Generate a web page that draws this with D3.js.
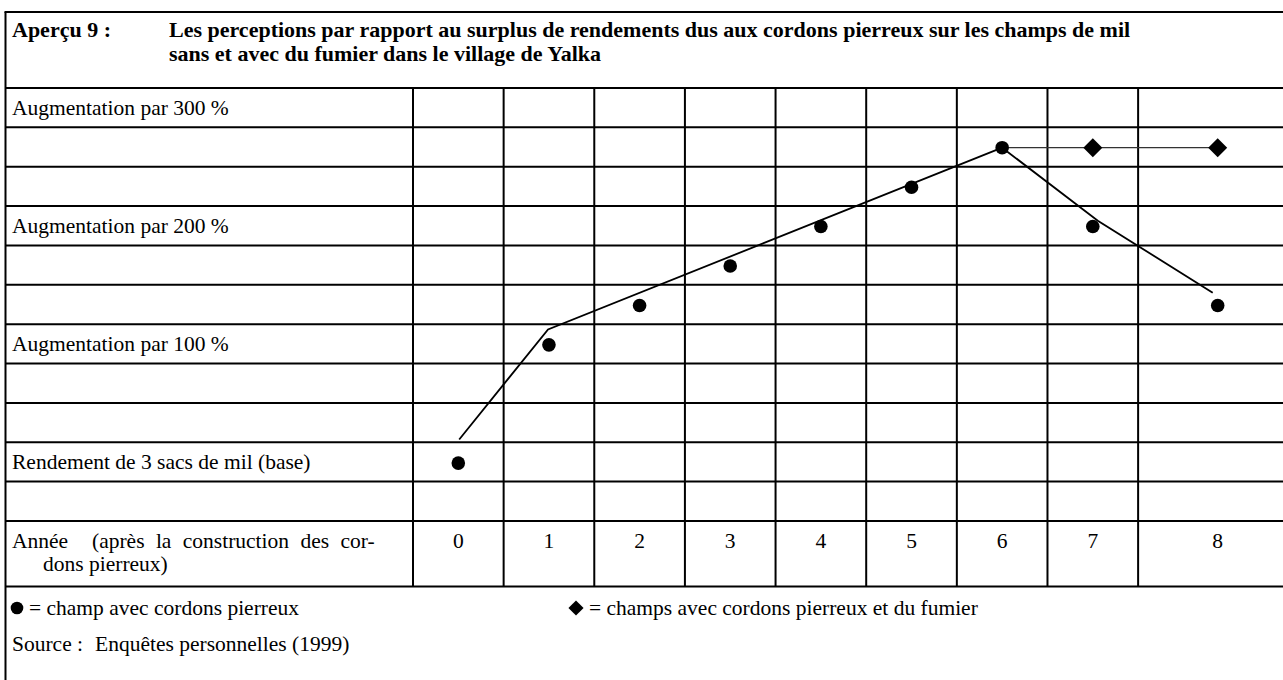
<!DOCTYPE html>
<html><head><meta charset="utf-8">
<script src="https://cdn.jsdelivr.net/npm/d3@7"></script>
<style>
html,body{margin:0;padding:0;background:#fff;}
svg text{font-family:"Liberation Serif","Times New Roman",serif;fill:#000;}
</style></head>
<body><svg id="c" width="1283" height="680"></svg>
<script>
// ---------- data ----------
const titleLabel = "Aperçu 9 :";
const titleLines = ["Les perceptions par rapport au surplus de rendements dus aux cordons pierreux sur les champs de mil",
                    "sans et avec du fumier dans le village de Yalka"];
const rowLabels = ["Augmentation par 300 %", "", "", "Augmentation par 200 %", "", "", "Augmentation par 100 %", "", "", "Rendement de 3 sacs de mil (base)", ""];
const years = [0, 1, 2, 3, 4, 5, 6, 7, 8];
const yieldStone = [0, 100, 133.3, 166.7, 200, 233.3, 266.7, 200, 133.3];      // % increase, dots
const manureYears = [6, 7, 8];
const yieldManure = [266.7, 266.7, 266.7];                                  // % increase, diamonds at 7, 8
const trendUpYears = [0.01, 0.99, 6];
const trendUpValues = [20, 113, 266.7];
const trendDownYears = [6, 7.04, 7.96];
const trendDownValues = [266.7, 205, 144];
const yearLabel1a = "Année";
const yearLabel1b = "(après la construction des cor-";
const yearLabel2 = "dons pierreux)";
const legendDot = "= champ avec cordons pierreux";
const legendDiamond = "= champs avec cordons pierreux et du fumier";
const sourceLabel = "Source :";
const sourceText = "Enquêtes personnelles (1999)";

// ---------- layout ----------
const svg = d3.select("#c");
const L = 5.5, R = 1297, TOP = 12, HEAD = 88, ROWH = 39.36, NROWS = 11;
const labelColR = 413, colW = 90.64;
const gridBottom = HEAD + ROWH * NROWS;   // 521
const yearBottom = 586.5;
const FS = 21.5, TFS = 22, TX = 12;

const x = d3.scaleLinear().domain([0, 7, 8]).range([458.3, 1092.8, 1217.7]);
const y = d3.scaleLinear().domain([0, 300]).range([463.1, 108.3]);

const g = svg.append("g");
const line = (x1, y1, x2, y2, w) => g.append("line").attr("x1", x1).attr("y1", y1).attr("x2", x2).attr("y2", y2)
  .attr("stroke", "#000").attr("stroke-width", w || 2);

// borders and grid
line(L - 1, TOP, R, TOP);
line(L, TOP, L, 680);
line(R, TOP, R, yearBottom);
line(L, HEAD, R, HEAD);
for (let i = 1; i <= NROWS; i++) line(L, HEAD + ROWH * i, R, HEAD + ROWH * i);
line(L, yearBottom, R, yearBottom);
for (let k = 0; k < years.length; k++) line(labelColR + colW * k, HEAD, labelColR + colW * k, yearBottom);

// title
svg.append("text").attr("x", TX).attr("y", 37).attr("font-size", TFS).attr("font-weight", "bold").text(titleLabel);
titleLines.forEach((t, i) => svg.append("text").attr("x", 169).attr("y", 37 + 23.5 * i)
  .attr("font-size", TFS).attr("font-weight", "bold").text(t));

// row labels
rowLabels.forEach((t, i) => { if (t) svg.append("text").attr("x", TX).attr("y", HEAD + ROWH * i + 27).attr("font-size", FS).text(t); });

// year row
const yt = svg.append("text").attr("y", gridBottom + 27).attr("font-size", FS);
yt.append("tspan").attr("x", TX).text(yearLabel1a);
yt.append("tspan").attr("x", 92).attr("word-spacing", 6).text(yearLabel1b);
svg.append("text").attr("x", 43).attr("y", gridBottom + 50).attr("font-size", FS).text(yearLabel2);
svg.selectAll(".yl").data(years).enter().append("text").attr("class", "yl")
  .attr("x", d => x(d)).attr("y", gridBottom + 27).attr("font-size", FS).attr("text-anchor", "middle").text(d => d);

// trend lines
const lg = d3.line().x(d => x(d[0])).y(d => y(d[1]));
svg.append("path").attr("d", lg(d3.zip(trendUpYears, trendUpValues))).attr("fill", "none").attr("stroke", "#000").attr("stroke-width", 1.8);
svg.append("path").attr("d", lg(d3.zip(trendDownYears, trendDownValues))).attr("fill", "none").attr("stroke", "#000").attr("stroke-width", 1.8);
svg.append("path").attr("d", lg(d3.zip(manureYears, yieldManure))).attr("fill", "none").attr("stroke", "#333").attr("stroke-width", 1.2);

// dots
svg.selectAll(".dot").data(d3.zip(years, yieldStone)).enter().append("circle")
  .attr("cx", d => x(d[0])).attr("cy", d => y(d[1])).attr("r", 6.8).attr("fill", "#000");
// diamonds
const diamond = d3.symbol().type(d3.symbolSquare).size(180);
svg.selectAll(".dia").data(d3.zip(manureYears, yieldManure).slice(1)).enter().append("path")
  .attr("d", diamond).attr("transform", d => `translate(${x(d[0])},${y(d[1])}) rotate(45)`).attr("fill", "#000");

// legend
svg.append("circle").attr("cx", 17).attr("cy", 608).attr("r", 6.3).attr("fill", "#000");
svg.append("text").attr("x", 29).attr("y", 615).attr("font-size", FS).text(legendDot);
svg.append("path").attr("d", d3.symbol().type(d3.symbolSquare).size(115)).attr("transform", "translate(576,608) rotate(45)").attr("fill", "#000");
svg.append("text").attr("x", 589).attr("y", 615).attr("font-size", FS).text(legendDiamond);
const st = svg.append("text").attr("y", 651).attr("font-size", FS);
st.append("tspan").attr("x", TX).text(sourceLabel);
st.append("tspan").attr("x", 95).text(sourceText);
</script></body></html>
